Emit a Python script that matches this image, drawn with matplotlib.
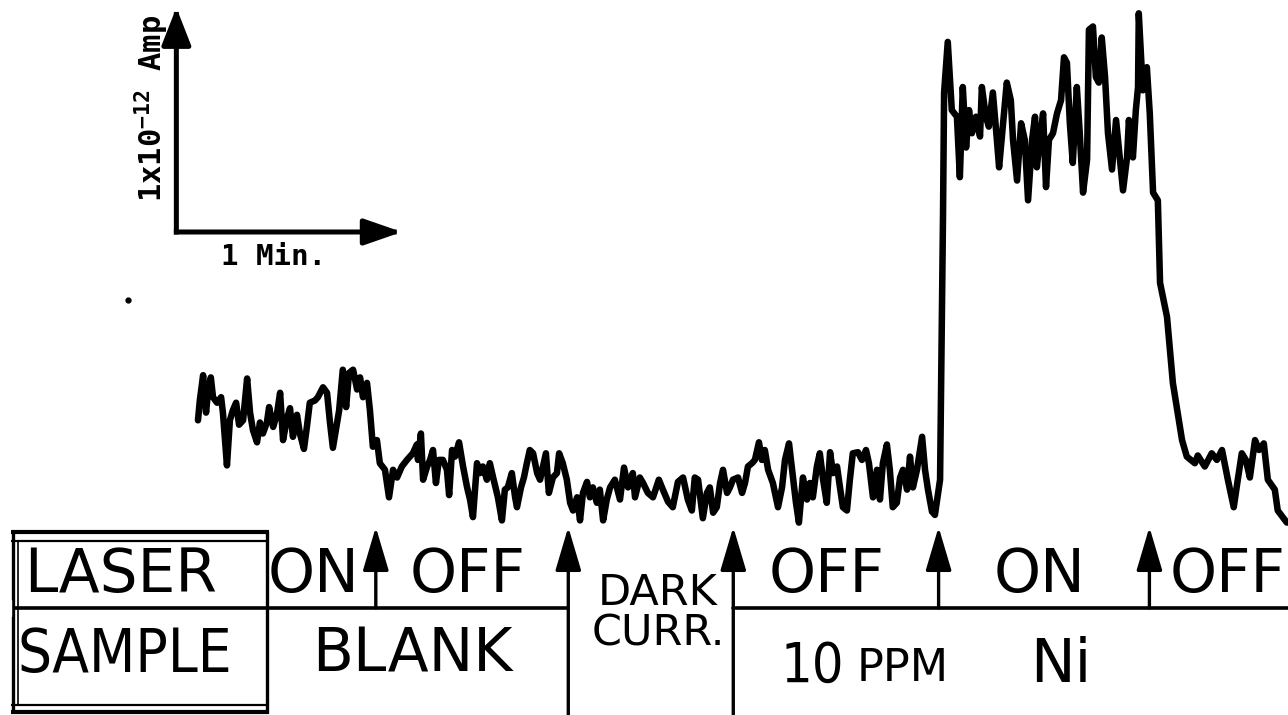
import matplotlib
matplotlib.use("Agg")
import matplotlib.pyplot as plt
from matplotlib import transforms

# Photocurrent recording: time (s) and current above dark level (fA)
time_s = [
    0, 0.5, 1.4, 2.2, 2.7, 3.5, 4.1, 5.2, 6.3, 6.8, 7.9, 8.7, 9.5, 10.4, 11.2,
    12.3, 13.4, 14.2, 15.0, 16.1, 16.9, 17.7, 18.8, 19.4, 20.5, 21.5, 22.4, 23.2,
    24.3, 25.1, 25.9, 27.0, 27.8, 28.9, 29.7, 30.5, 31.9, 32.7, 34.1, 35.2, 36.0,
    36.8, 37.6, 38.5, 39.5, 40.4, 41.2, 42.3, 43.4, 44.2, 45.0, 46.1, 46.9, 47.7,
    48.8, 49.6, 51.0, 52.1, 53.2, 54.3, 55.6, 57.0,
    58.6, 59.7, 60.0, 60.8, 61.4, 62.5, 63.3, 64.1, 64.9, 65.7, 66.8, 67.9, 68.5,
    69.3, 70.1, 71.2, 72.3, 73.4, 74.2, 75.0, 76.1, 76.9, 77.7, 78.8, 79.6, 80.5,
    81.8, 82.9, 83.7, 84.5, 85.6, 86.5, 87.0, 88.1, 88.9, 89.7, 90.5, 91.4, 92.5,
    93.3, 94.1, 94.9, 95.7, 96.8, 97.9, 98.5, 99.5, 100.6, 101.5, 102.3, 103.4,
    104.2, 105.0, 106.1, 106.9, 107.7, 108.8, 109.6, 110.5, 111.5, 112.4,
    113.7, 115.1, 116.2, 117.3, 118.6, 119.2, 120.5, 121.4, 122.7, 124.1, 125.7,
    126.8, 128.2, 129.5, 130.9, 132.3, 133.6, 134.7, 135.5, 136.4, 137.7, 138.8,
    139.6, 140.5, 141.5, 142.4, 143.2, 144.3, 145.1, 145.9, 147.3, 148.4, 149.2,
    150.0, 151.1, 151.9, 153.0, 153.8, 154.6, 155.5, 156.8, 158.2, 159.3, 160.1,
    161.2, 162.3, 163.1, 163.9, 165.0, 166.1, 166.9, 167.7, 168.8, 169.6, 170.5,
    171.5, 172.4, 173.2, 174.3, 175.1, 175.9, 177.0, 177.8, 178.6, 180.0, 181.1,
    182.2, 183.0, 184.1, 185.2, 186.0, 186.8, 187.9, 188.7, 189.5, 190.6, 191.5,
    192.3, 193.4, 194.2, 195.0, 196.1, 197.5, 198.3, 199.1, 200.2, 201.0, 202.4,
    202.9, 203.2, 203.5, 204.5, 205.6, 207.0, 207.8, 208.6, 209.5, 210.3, 211.1,
    212.2, 213.3, 213.8, 214.9, 215.7, 216.8, 217.9, 218.5, 219.5, 220.6, 221.7,
    222.3, 223.4, 224.5, 225.5, 226.4, 227.5, 228.3, 228.8, 229.6, 230.5, 231.3,
    232.1, 233.2, 234.3, 235.4, 236.2, 237.0, 237.8, 238.6, 239.7, 240.5, 241.4,
    242.5, 243.0, 244.1, 244.9, 245.7, 246.5, 247.4, 248.2, 249.3, 250.4, 251.2,
    252.3, 253.4, 253.9, 255.0, 255.8, 256.4, 256.6, 257.7, 258.8, 259.6, 260.5,
    261.8, 262.4, 264.3, 265.9, 268.4, 269.7, 271.9, 272.7, 274.6, 276.5, 277.9,
    279.3, 280.9, 282.5, 283.6, 284.7, 285.8, 286.9, 288.3, 289.4, 290.7, 291.8,
    293.7, 294.5, 297.0,
]
current_fA = [
    385, 475, 590, 420, 510, 580, 490, 465, 490, 420, 180, 385, 430, 465, 365,
    385, 575, 420, 340, 285, 375, 325, 375, 445, 355, 410, 510, 295,
    395, 440, 310, 410, 325, 255, 355, 465, 475, 490, 535, 510, 375,
    260, 340, 430, 615, 445, 600, 615, 525, 580, 490, 555, 430, 265,
    295, 190, 160, 35, 160, 125, 175, 205,
    235, 275, 205, 325, 115, 175, 205, 250, 100, 205, 205, 160, 45,
    250, 220, 285, 175, 80, 25, -55, 190, 145, 175, 115, 190, 125,
    35, -70, 70, 80, 145, 35, -10, 80, 125, 190, 250, 235, 145,
    115, 175, 235, 55, 125, 145, 235, 190, 115, 10, -25, 35,
    -70, 55, 105, 35, 80, 10, 70, -70, 25, 80,
    115, 25, 170, 80, 145, 35, 125, 100, 55, 35, 115,
    70, 15, -10, 105, 125, 25, -25, 125, 115, -60, 55,
    80, -35, -10, 100, 160, 55, 80, 115, 125, 55, 100,
    175, 190, 205, 285, 205, 250, 160, 100, -10, 80, 205,
    280, 125, 10, -80, 125, 25, 100, 35, 175, 235, 115,
    10, 240, 145, 175, 80, -10, -25, 115, 235, 240, 205,
    250, 190, 35, 160, 25, 190, 275, 160, -10, 10, 125,
    160, 70, 220, 80, 160, 310, 160, 70, -30, -45, 115,
    875, 1310, 1875, 2105, 1795, 1765, 1490, 1900, 1625, 1795, 1690,
    1765, 1675, 1900, 1765, 1720, 1875, 1660, 1535, 1720, 1920, 1840,
    1660, 1475, 1735, 1660, 1385, 1660, 1765, 1535, 1660, 1780, 1445,
    1660, 1690, 1780, 1840, 2035, 2010, 1735, 1555, 1900, 1690, 1420,
    1570, 2160, 2175, 1945, 1920, 2125, 1945, 1690, 1525, 1750, 1615,
    1430, 1580, 1750, 1580, 1795, 1900, 2235, 1885, 1990, 1780, 1420,
    1385, 1010, 855, 555, 295, 220, 190, 225, 175, 235, 205,
    250, 115, -10, 115, 235, 205, 125, 295, 250, 280, 115,
    70, -25, -80,
]

# Moments when the laser or the sample was switched (s)
event_times = [48.5, 101.0, 146.0, 202.0, 259.5]
event_spans_sample_row = [False, True, True, False, False]

# Scale bar: one minute by 1e-12 A
scale_minutes = 1
scale_pA = 1

plt.rcParams['mathtext.fontset'] = 'custom'
plt.rcParams['mathtext.rm'] = 'DejaVu Sans Mono:bold'
plt.rcParams['mathtext.it'] = 'DejaVu Sans Mono:bold'
plt.rcParams['mathtext.bf'] = 'DejaVu Sans Mono:bold'

W, H = 1288, 715
fig = plt.figure(figsize=(W / 100, H / 100), dpi=100)
fig.patch.set_facecolor('white')

# Recorder axes in physical units
ax = fig.add_axes([0, 0, 1, 1])
ax.set_xlim(-54.0, 297.3)
ax.set_ylim(-954.5, 2295.5)
ax.axis('off')

# Sheet axes for the hand-lettered legend table (pixel units, y down)
lay = fig.add_axes([0, 0, 1, 1])
lay.set_xlim(0, W)
lay.set_ylim(H, 0)
lay.axis('off')

ax.plot(time_s, current_fA, color='black', lw=4.7,
        solid_joinstyle='round', solid_capstyle='round', zorder=3)

# Scale bar (arrow heads overshoot the unit length slightly)
t0, i0 = -5.9, 1241
head_over_s = 1.5
bar_kw = dict(color='black', lw=3.6, shrinkA=0, shrinkB=0, capstyle='projecting',
              mutation_scale=10)
ax.annotate('', xy=(t0 + 60 * scale_minutes + head_over_s, i0), xytext=(t0, i0),
            arrowprops=dict(arrowstyle='-|>,head_length=2.3,head_width=0.8', **bar_kw))
ax.annotate('', xy=(t0, i0 + 1000 * scale_pA + 20), xytext=(t0, i0),
            arrowprops=dict(arrowstyle='-|>,head_length=2.3,head_width=0.9', **bar_kw))
lay.text(274, 265, '1 Min.', family='DejaVu Sans Mono', weight='bold', size=21,
         ha='center', va='baseline')
lay.text(152, 108, r'1x10$^{\mathregular{-12}}$ Amp', family='DejaVu Sans Mono',
         weight='bold', size=22, rotation=90, ha='center', va='center')
lay.plot([128], [300], 'o', ms=3.5, color='black')

# Legend table frame
line_kw = dict(color='black', solid_capstyle='butt')
lay.plot([11, 269], [532, 532], lw=3.0, **line_kw)
lay.plot([11, 269], [541, 541], lw=1.6, **line_kw)
lay.plot([11, 269], [705, 705], lw=1.6, **line_kw)
lay.plot([11, 269], [712, 712], lw=3.0, **line_kw)
lay.plot([13, 13], [531, 713], lw=2.4, **line_kw)
lay.plot([18, 18], [541, 705], lw=1.2, **line_kw)
lay.plot([267, 267], [531, 713], lw=2.4, **line_kw)

btr = transforms.blended_transform_factory(ax.transData, lay.transData)
row_line_y = 608
ax.plot([-54.0, event_times[1]], [row_line_y, row_line_y], transform=btr,
        lw=2.6, color='black', solid_capstyle='butt')
ax.plot([event_times[2], 297.3], [row_line_y, row_line_y], transform=btr,
        lw=2.6, color='black', solid_capstyle='round')
# keep the row line inside the frame on the left
lay.add_patch(plt.Rectangle((0, 600), 11, 16, color='white', zorder=5))

for t, full in zip(event_times, event_spans_sample_row):
    bottom = H + 2 if full else row_line_y
    ax.annotate('', xy=(t, 527), xytext=(t, bottom), xycoords=btr, textcoords=btr,
                arrowprops=dict(arrowstyle='-|>,head_length=2.7,head_width=0.8',
                                mutation_scale=10, lw=2.4, color='black',
                                shrinkA=0, shrinkB=0))

big = dict(family='DejaVu Sans', size=43, ha='center', va='baseline')
lay.text(121, 592, 'LASER', **big)
lay.text(125, 672, 'SAMPLE', family='DejaVu Sans', fontstretch='condensed',
         size=43, ha='center', va='baseline')
lay.text(314, 592, 'ON', **big)
lay.text(468, 592, 'OFF', **big)
lay.text(412, 672, 'BLANK', **big)
lay.text(827, 592, 'OFF', **big)
lay.text(1040, 592, 'ON', **big)
lay.text(1228, 592, 'OFF', **big)

mid = dict(family='DejaVu Sans', size=31, ha='center', va='baseline')
lay.text(658, 605, 'DARK', **mid)
lay.text(658, 645, 'CURR.', **mid)

lay.text(812, 682, '10', family='DejaVu Sans', fontstretch='condensed', size=40,
         ha='center', va='baseline')
lay.text(857, 681, 'PPM', family='DejaVu Sans', size=32, ha='left', va='baseline')
lay.text(1030, 682, 'Ni', family='DejaVu Sans', size=43, ha='left', va='baseline')

fig.savefig('out.png', dpi=100, facecolor='white')
